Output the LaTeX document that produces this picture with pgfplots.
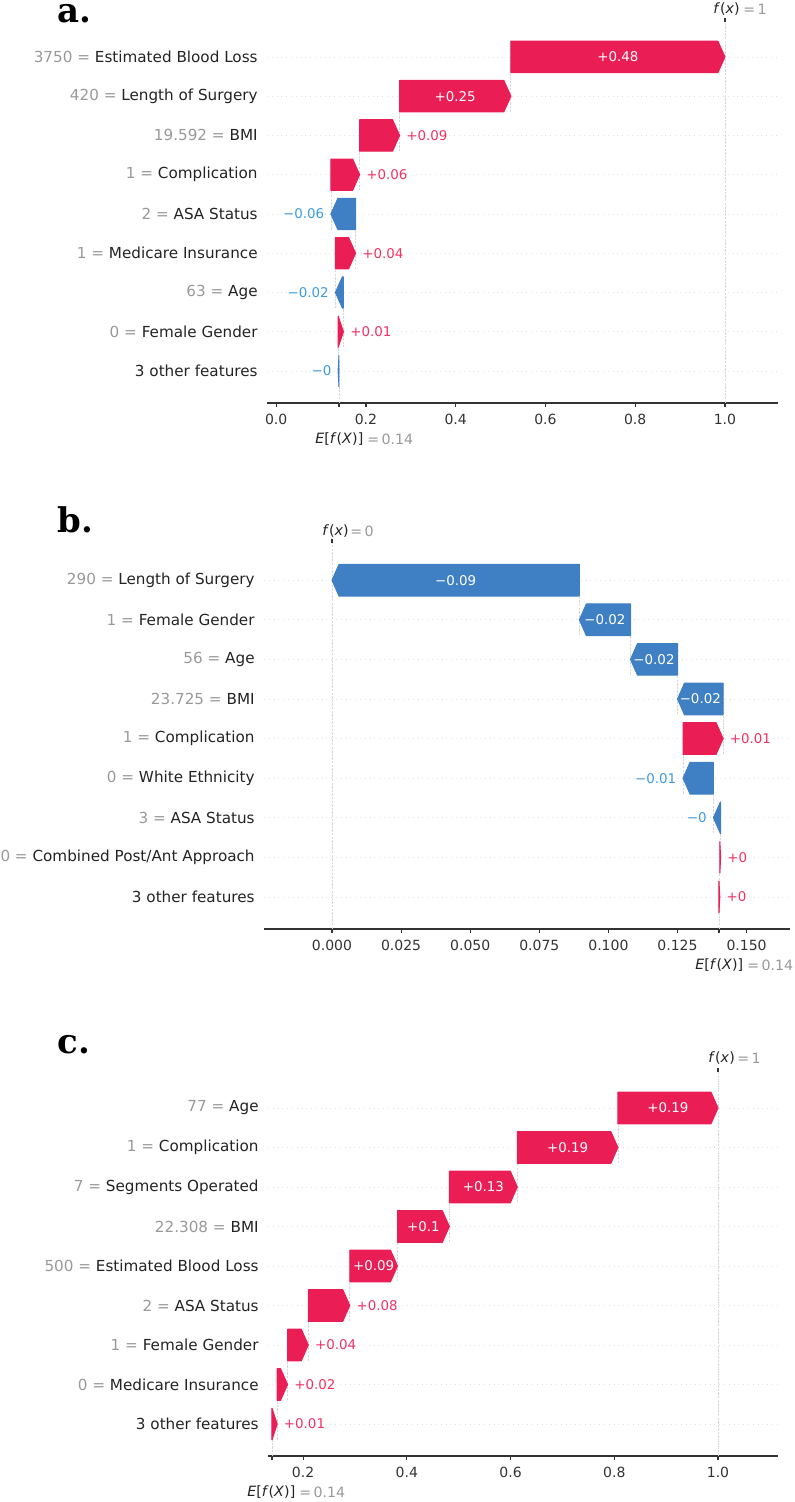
\documentclass[border=0pt]{standalone}
\usepackage{pgfplots}
\pgfplotsset{compat=1.18}
\usepackage{fontspec}
\setmainfont{DejaVu Sans}
\newfontfamily\letterfont{DejaVu Serif}

\definecolor{barred}{RGB}{235,29,85}
\definecolor{barblue}{RGB}{63,128,196}
\definecolor{txtred}{RGB}{240,50,100}
\definecolor{txtblue}{RGB}{60,155,225}
\definecolor{valc}{RGB}{153,153,153}
\definecolor{namec}{RGB}{35,35,35}
\definecolor{axc}{RGB}{51,51,51}
\definecolor{gridc}{RGB}{225,225,225}
\definecolor{vlinec}{RGB}{215,215,215}

\newcommand\ylfont{\fontsize{7.6}{9}\selectfont}
\newcommand\tkfont{\fontsize{7}{8.4}\selectfont}
\newcommand\barfont{\fontsize{6.7}{8}\selectfont}
\newcommand\efont{\fontsize{7.1}{8.5}\selectfont}
\newcommand\gv[1]{\textcolor{valc}{#1}}

% one waterfall arrow: row, from, to, colour (\hlen = head length, \bh = half height)
\newcommand{\shapbar}[4]{%
  \pgfmathsetmacro\sbA{#1-\bh}%
  \pgfmathsetmacro\sbB{#1+\bh}%
  \pgfmathsetmacro\sbL{min(\hlen,abs(#3-#2))}%
  \pgfmathsetmacro\sbT{#3-sign(#3-#2)*\sbL}%
  \edef\sbcmd{\noexpand\addplot[fill=#4,draw=#4,line width=0.5pt,line join=round,forget plot]
    coordinates {(#2,\sbA) (\sbT,\sbA) (#3,#1) (\sbT,\sbB) (#2,\sbB)} --cycle;}%
  \sbcmd}
% dashed connector at a bar start: x, row
\newcommand{\conn}[2]{%
  \pgfmathsetmacro\cnA{#2+0.4}%
  \pgfmathsetmacro\cnB{#2-1.4}%
  \edef\cncmd{\noexpand\addplot[vline,forget plot] coordinates {(#1,\cnA) (#1,\cnB)};}%
  \cncmd}
% labels: inside (row, from, to, text), outside right / left (row, tip, text)
\newcommand{\inlab}[4]{%
  \pgfmathsetmacro\ilm{(#2+#3)/2}%
  \edef\ilcmd{\noexpand\node[font=\noexpand\barfont,text=white] at (axis cs:\ilm,#1) {#4};}%
  \ilcmd}
\newcommand{\poslab}[3]{\node[font=\barfont,text=txtred,anchor=west,inner sep=0pt,xshift=3.2pt] at (axis cs:#2,#1) {#3};}
\newcommand{\neglab}[3]{\node[font=\barfont,text=txtblue,anchor=east,inner sep=0pt,xshift=-3.2pt] at (axis cs:#2,#1) {#3};}

\pgfplotsset{
  vline/.style={color=vlinec,line width=0.4pt,dash pattern=on 1.2pt off 0.6pt},
  shap/.style={
    scale only axis, clip=false, anchor=south west,
    axis x line*=bottom, axis y line*=left,
    y axis line style={draw=none},
    x axis line style={color=axc,line width=0.75pt},
    ytick={0,...,8}, ytick style={draw=none},
    ymajorgrids, grid style={color=gridc,line width=0.4pt,dash pattern=on 0.4pt off 2pt},
    xtick align=outside, xtick style={color=axc,line width=0.6pt},
    major tick length=2pt,
    yticklabel style={font=\ylfont,text=namec,anchor=east,inner sep=0pt,xshift=-4.5pt},
    xticklabel style={font=\tkfont,text=axc},
    /pgf/number format/assume math mode=true,
    extra x tick labels={},
    extra x tick style={grid=none},
  }
}

\begin{document}
\begin{tikzpicture}
\useasboundingbox (0,0) rectangle (397pt,-751pt);

\node[anchor=base west,inner sep=0pt,font=\letterfont\bfseries\fontsize{17}{20}\selectfont] at (28.5pt,-11.5pt) {a.};
\node[anchor=base west,inner sep=0pt,font=\letterfont\bfseries\fontsize{17}{20}\selectfont] at (28.5pt,-266pt) {b.};
\node[anchor=base west,inner sep=0pt,font=\letterfont\bfseries\fontsize{17}{20}\selectfont] at (28.5pt,-526.5pt) {c.};

% ---------------- panel a ----------------
\def\hlen{0.0156}\def\bh{0.40}
\begin{axis}[shap, at={(133.5pt,-201.5pt)}, width=255.5pt, height=190.5pt,
  xmin=-0.0204, xmax=1.1182, ymin=-0.815, ymax=8.89,
  xtick={0,0.2,0.4,0.6,0.8,1.0}, xticklabels={0.0,0.2,0.4,0.6,0.8,1.0},
  extra x ticks={0.14},
  yticklabels={3 other features, \gv{0 =} Female Gender, \gv{63 =} Age, \gv{1 =} Medicare Insurance,
    \gv{2 =} ASA Status, \gv{1 =} Complication, \gv{19.592 =} BMI, \gv{420 =} Length of Surgery,
    \gv{3750 =} Estimated Blood Loss}]
  \addplot[vline,forget plot] coordinates {(1.0,-0.815) (1.0,8.89)};
  \addplot[vline,forget plot] coordinates {(0.14,-0.815) (0.14,0.26)};
  \conn{0.523}{8}\conn{0.275}{7}\conn{0.186}{6}\conn{0.122}{5}
  \conn{0.177}{4}\conn{0.132}{3}\conn{0.150}{2}\conn{0.138}{1}
  \shapbar{0}{0.140}{0.138}{barblue}
  \shapbar{1}{0.138}{0.150}{barred}
  \shapbar{2}{0.150}{0.132}{barblue}
  \shapbar{3}{0.132}{0.177}{barred}
  \shapbar{4}{0.177}{0.122}{barblue}
  \shapbar{5}{0.122}{0.186}{barred}
  \shapbar{6}{0.186}{0.275}{barred}
  \shapbar{7}{0.275}{0.523}{barred}
  \shapbar{8}{0.523}{1.000}{barred}
  \neglab{0}{0.138}{−0}
  \poslab{1}{0.150}{+0.01}
  \neglab{2}{0.132}{−0.02}
  \poslab{3}{0.177}{+0.04}
  \neglab{4}{0.122}{−0.06}
  \poslab{5}{0.186}{+0.06}
  \poslab{6}{0.275}{+0.09}
  \inlab{7}{0.275}{0.523}{+0.25}
  \inlab{8}{0.523}{1.000}{+0.48}
  \draw[axc,line width=0.6pt] (axis cs:1.0,8.89) -- ([yshift=2pt]axis cs:1.0,8.89);
  \node[anchor=west,inner sep=0pt,font=\efont,text=namec,xshift=-6pt,yshift=6.5pt] at (axis cs:1.0,8.89) {\textit{f}(\textit{x})};
  \node[anchor=west,inner sep=0pt,font=\efont,text=valc,xshift=9pt,yshift=6.5pt] at (axis cs:1.0,8.89) {=\,1};
  \node[anchor=west,inner sep=0pt,font=\efont,text=namec,xshift=-12pt,yshift=-18pt] at (axis cs:0.14,-0.815) {\textit{E}[\textit{f}(\textit{X})]};
  \node[anchor=west,inner sep=0pt,font=\efont,text=valc,xshift=14pt,yshift=-18pt] at (axis cs:0.14,-0.815) {=\,0.14};
\end{axis}

% ---------------- panel b ----------------
\def\hlen{0.00253}\def\bh{0.40}
\begin{axis}[shap, at={(132pt,-464.5pt)}, width=263pt, height=193pt,
  xmin=-0.0246, xmax=0.1657, ymin=-0.81, ymax=8.94,
  xtick={0,0.025,0.05,0.075,0.1,0.125,0.15},
  xticklabels={0.000,0.025,0.050,0.075,0.100,0.125,0.150},
  extra x ticks={0.14},
  yticklabels={3 other features, \gv{0 =} Combined Post/Ant Approach, \gv{3 =} ASA Status,
    \gv{0 =} White Ethnicity, \gv{1 =} Complication, \gv{23.725 =} BMI, \gv{56 =} Age,
    \gv{1 =} Female Gender, \gv{290 =} Length of Surgery}]
  \addplot[vline,forget plot] coordinates {(0,-0.81) (0,8.94)};
  \addplot[vline,forget plot] coordinates {(0.14,-0.81) (0.14,0.27)};
  \conn{0.0895}{8}\conn{0.1080}{7}\conn{0.1250}{6}\conn{0.1415}{5}
  \conn{0.1270}{4}\conn{0.1380}{3}\conn{0.1406}{2}\conn{0.1403}{1}
  \shapbar{0}{0.1400}{0.1403}{barred}
  \shapbar{1}{0.1403}{0.1406}{barred}
  \shapbar{2}{0.1406}{0.1380}{barblue}
  \shapbar{3}{0.1380}{0.1270}{barblue}
  \shapbar{4}{0.1270}{0.1415}{barred}
  \shapbar{5}{0.1415}{0.1250}{barblue}
  \shapbar{6}{0.1250}{0.1080}{barblue}
  \shapbar{7}{0.1080}{0.0895}{barblue}
  \shapbar{8}{0.0895}{0.0000}{barblue}
  \poslab{0}{0.1403}{+0}
  \poslab{1}{0.1406}{+0}
  \neglab{2}{0.1380}{−0}
  \neglab{3}{0.1270}{−0.01}
  \poslab{4}{0.1415}{+0.01}
  \inlab{5}{0.1415}{0.1250}{−0.02}
  \inlab{6}{0.1250}{0.1080}{−0.02}
  \inlab{7}{0.1080}{0.0895}{−0.02}
  \inlab{8}{0.0895}{0.0000}{−0.09}
  \draw[axc,line width=0.6pt] (axis cs:0,8.94) -- ([yshift=2pt]axis cs:0,8.94);
  \node[anchor=west,inner sep=0pt,font=\efont,text=namec,xshift=-5pt,yshift=6pt] at (axis cs:0,8.94) {\textit{f}(\textit{x})};
  \node[anchor=west,inner sep=0pt,font=\efont,text=valc,xshift=9pt,yshift=6pt] at (axis cs:0,8.94) {=\,0};
  \node[anchor=west,inner sep=0pt,font=\efont,text=namec,xshift=-12pt,yshift=-18pt] at (axis cs:0.14,-0.81) {\textit{E}[\textit{f}(\textit{X})]};
  \node[anchor=west,inner sep=0pt,font=\efont,text=valc,xshift=14pt,yshift=-18pt] at (axis cs:0.14,-0.81) {=\,0.14};
\end{axis}

% ---------------- panel c ----------------
\def\hlen{0.0135}\def\bh{0.40}
\begin{axis}[shap, at={(134pt,-728pt)}, width=255pt, height=192pt,
  xmin=0.1323, xmax=1.1157, ymin=-0.81, ymax=8.91,
  xtick={0.2,0.4,0.6,0.8,1.0}, xticklabels={0.2,0.4,0.6,0.8,1.0},
  extra x ticks={0.14},
  yticklabels={3 other features, \gv{0 =} Medicare Insurance, \gv{1 =} Female Gender,
    \gv{2 =} ASA Status, \gv{500 =} Estimated Blood Loss, \gv{22.308 =} BMI,
    \gv{7 =} Segments Operated, \gv{1 =} Complication, \gv{77 =} Age}]
  \addplot[vline,forget plot] coordinates {(1.0,-0.81) (1.0,8.91)};
  \addplot[vline,forget plot] coordinates {(0.14,-0.81) (0.14,0.27)};
  \conn{0.807}{8}\conn{0.613}{7}\conn{0.482}{6}\conn{0.382}{5}
  \conn{0.290}{4}\conn{0.210}{3}\conn{0.170}{2}\conn{0.150}{1}
  \shapbar{0}{0.140}{0.150}{barred}
  \shapbar{1}{0.150}{0.170}{barred}
  \shapbar{2}{0.170}{0.210}{barred}
  \shapbar{3}{0.210}{0.290}{barred}
  \shapbar{4}{0.290}{0.382}{barred}
  \shapbar{5}{0.382}{0.482}{barred}
  \shapbar{6}{0.482}{0.613}{barred}
  \shapbar{7}{0.613}{0.807}{barred}
  \shapbar{8}{0.807}{1.000}{barred}
  \poslab{0}{0.150}{+0.01}
  \poslab{1}{0.170}{+0.02}
  \poslab{2}{0.210}{+0.04}
  \poslab{3}{0.290}{+0.08}
  \inlab{4}{0.290}{0.382}{+0.09}
  \inlab{5}{0.382}{0.482}{+0.1}
  \inlab{6}{0.482}{0.613}{+0.13}
  \inlab{7}{0.613}{0.807}{+0.19}
  \inlab{8}{0.807}{1.000}{+0.19}
  \draw[axc,line width=0.6pt] (axis cs:1.0,8.91) -- ([yshift=2pt]axis cs:1.0,8.91);
  \node[anchor=west,inner sep=0pt,font=\efont,text=namec,xshift=-5pt,yshift=7pt] at (axis cs:1.0,8.91) {\textit{f}(\textit{x})};
  \node[anchor=west,inner sep=0pt,font=\efont,text=valc,xshift=9.5pt,yshift=7pt] at (axis cs:1.0,8.91) {=\,1};
  \node[anchor=west,inner sep=0pt,font=\efont,text=namec,xshift=-12.5pt,yshift=-18pt] at (axis cs:0.14,-0.81) {\textit{E}[\textit{f}(\textit{X})]};
  \node[anchor=west,inner sep=0pt,font=\efont,text=valc,xshift=13.5pt,yshift=-18pt] at (axis cs:0.14,-0.81) {=\,0.14};
\end{axis}
\end{tikzpicture}
\end{document}
